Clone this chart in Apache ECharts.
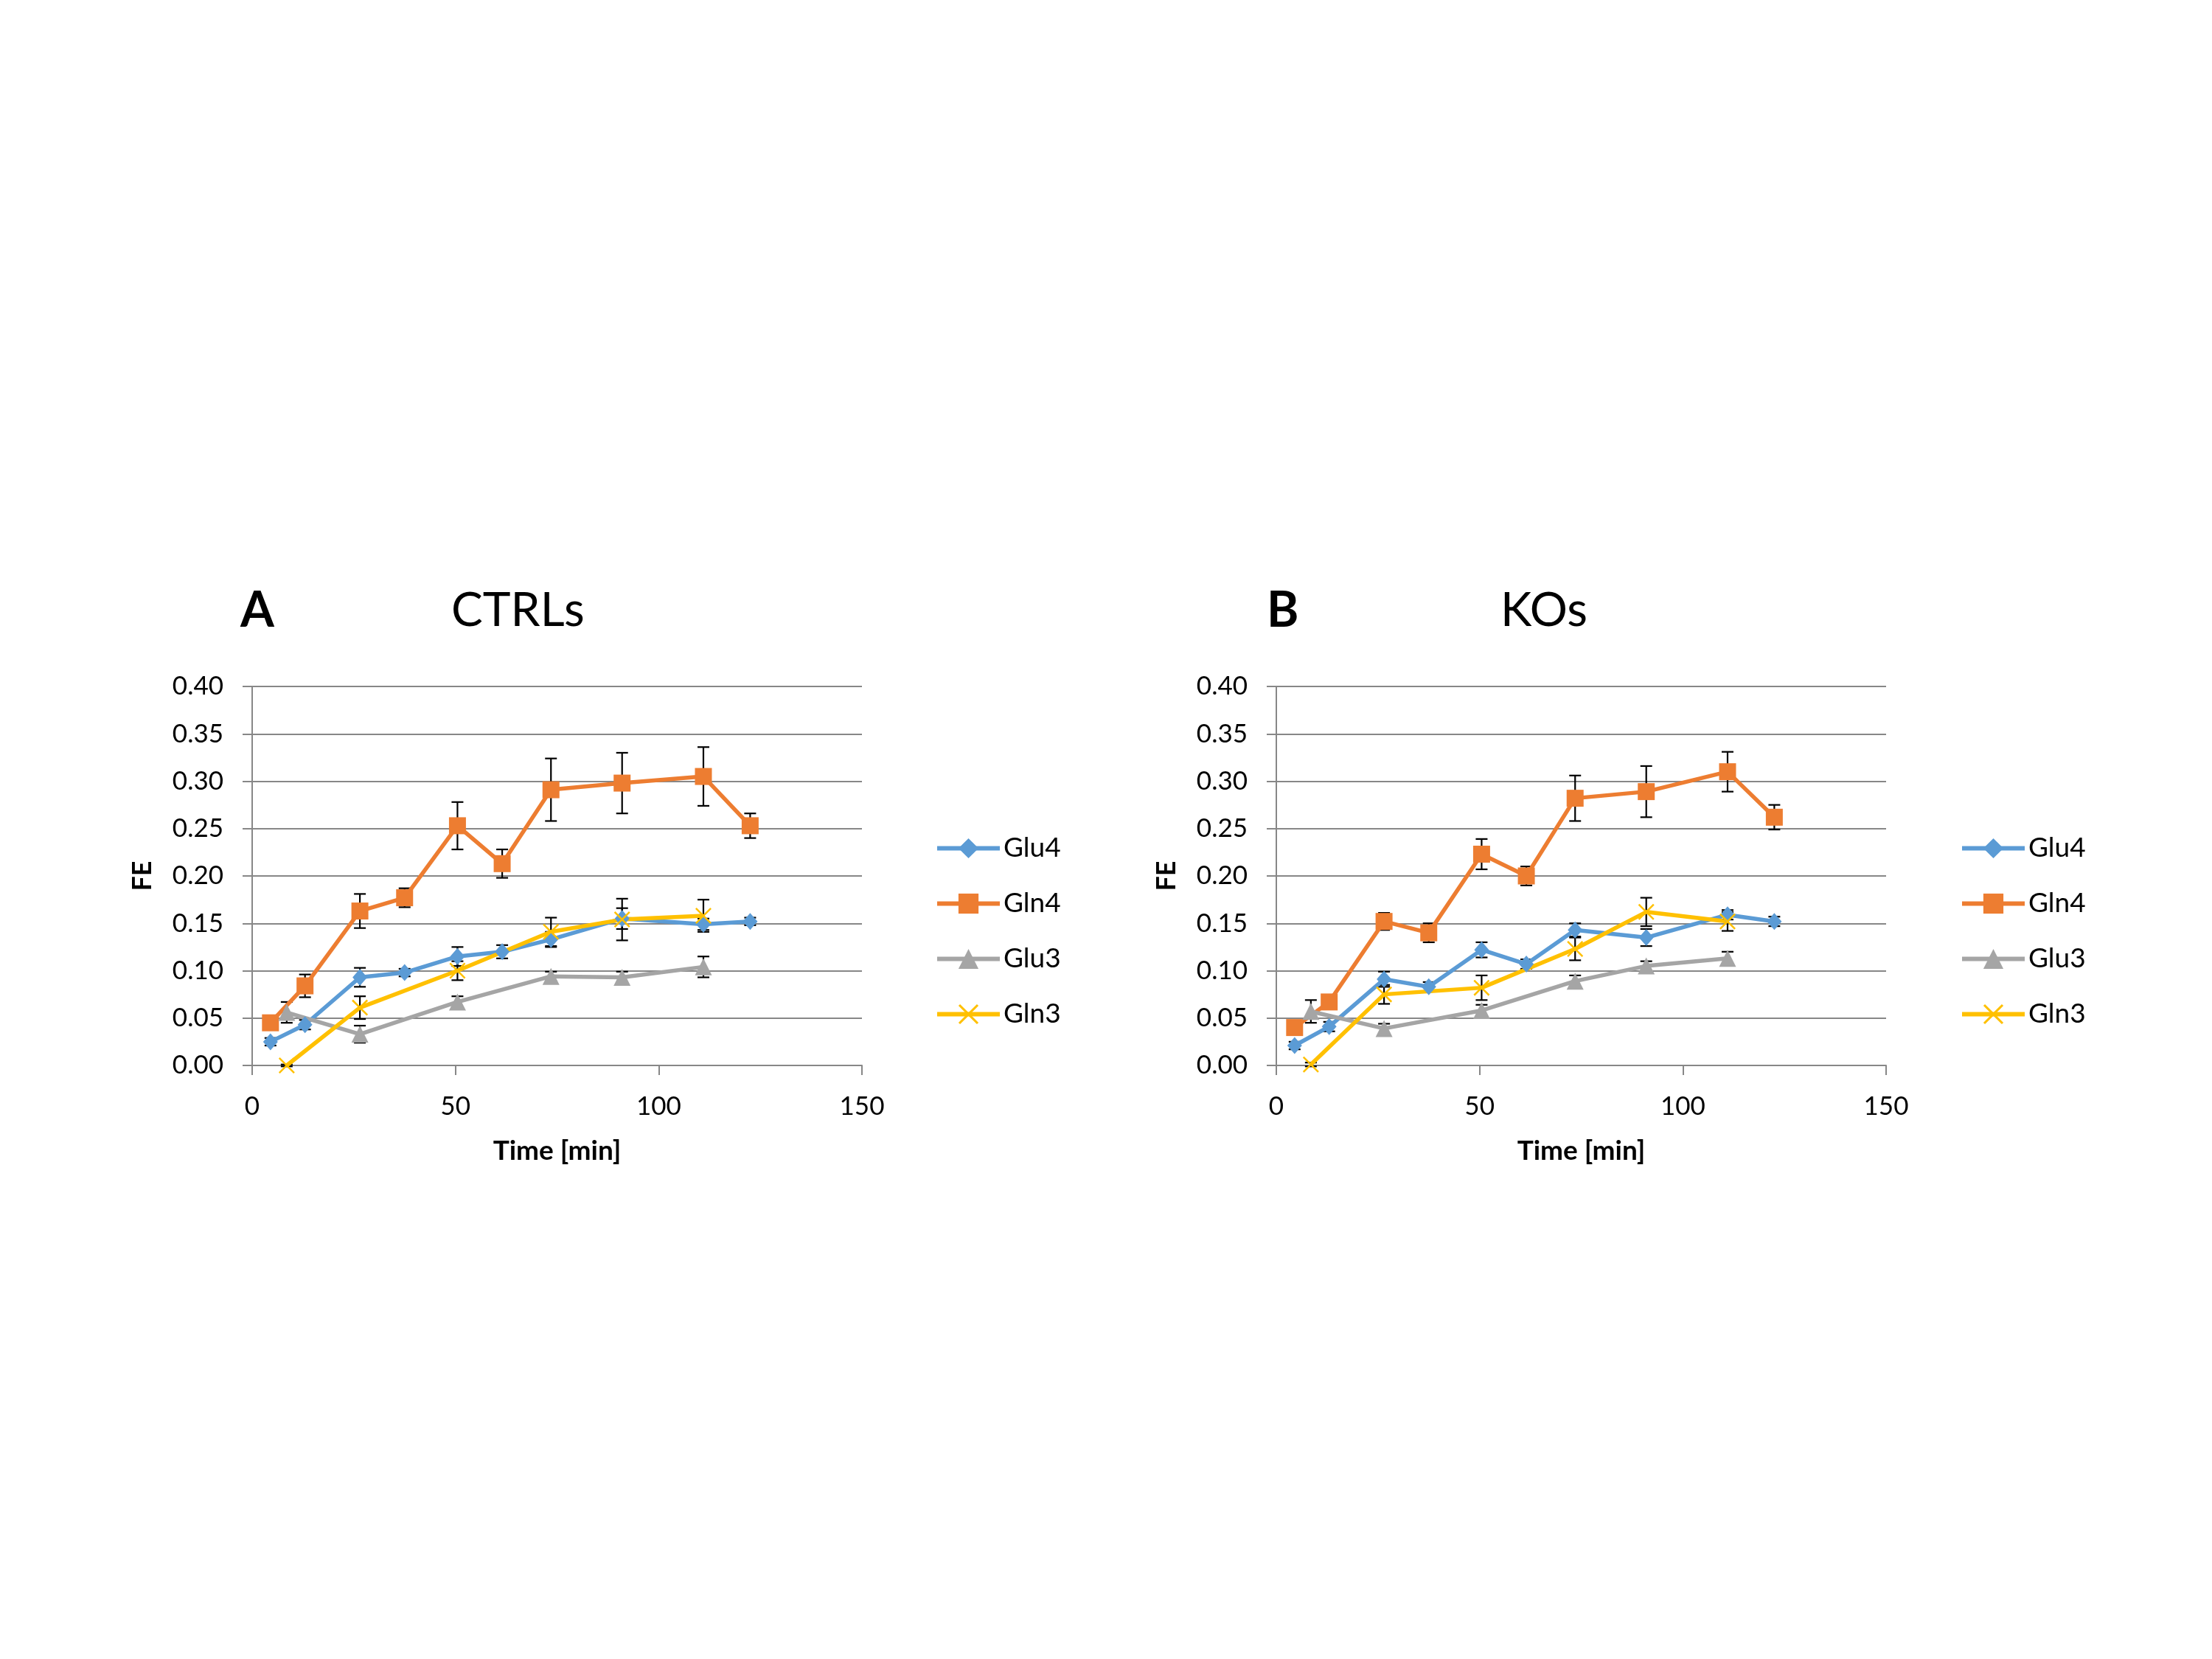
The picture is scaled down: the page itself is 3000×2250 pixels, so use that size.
<!DOCTYPE html>
<html>
<head>
<meta charset="utf-8">
<script src="https://cdn.jsdelivr.net/npm/echarts@6/dist/echarts.min.js"></script>
<style>
html,body{margin:0;padding:0;background:#fff;}
#chart{width:3000px;height:2250px;}
</style>
</head>
<body>
<div id="chart"></div>
<script>
// ---- data ----
const seriesNames = ['Glu4', 'Gln4', 'Glu3', 'Gln3'];
const times4 = [4.5, 13, 26.5, 37.5, 50.5, 61.5, 73.5, 91, 111, 122.5];
const times3 = [8.5, 26.5, 50.5, 73.5, 91, 111];
const xTicks = [0, 50, 100, 150];
const yTicks = [0, 0.05, 0.10, 0.15, 0.20, 0.25, 0.30, 0.35, 0.40];

// CTRLs
const ctrlGlu4    = [0.025, 0.043, 0.093, 0.098, 0.115, 0.120, 0.133, 0.155, 0.149, 0.152];
const ctrlGlu4Err = [0.004, 0.005, 0.010, 0.004, 0.010, 0.007, 0.008, 0.011, 0.006, 0.004];
const ctrlGln4    = [0.045, 0.084, 0.163, 0.177, 0.253, 0.213, 0.291, 0.298, 0.305, 0.253];
const ctrlGln4Err = [0.002, 0.012, 0.018, 0.010, 0.025, 0.015, 0.033, 0.032, 0.031, 0.013];
const ctrlGlu3    = [0.056, 0.033, 0.067, 0.094, 0.093, 0.104];
const ctrlGlu3Err = [0.011, 0.009, 0.006, 0.005, 0.006, 0.011];
const ctrlGln3    = [0.000, 0.061, 0.100, 0.141, 0.154, 0.158];
const ctrlGln3Err = [0.001, 0.012, 0.010, 0.015, 0.022, 0.017];

// KOs
const koGlu4    = [0.021, 0.041, 0.091, 0.083, 0.122, 0.107, 0.143, 0.135, 0.159, 0.152];
const koGlu4Err = [0.004, 0.005, 0.008, 0.005, 0.008, 0.005, 0.007, 0.009, 0.005, 0.005];
const koGln4    = [0.040, 0.067, 0.152, 0.140, 0.223, 0.200, 0.282, 0.289, 0.310, 0.262];
const koGln4Err = [0.002, 0.003, 0.009, 0.010, 0.016, 0.010, 0.024, 0.027, 0.021, 0.013];
const koGlu3    = [0.057, 0.039, 0.058, 0.089, 0.105, 0.113];
const koGlu3Err = [0.012, 0.005, 0.006, 0.006, 0.005, 0.007];
const koGln3    = [0.001, 0.075, 0.082, 0.123, 0.162, 0.152];
const koGln3Err = [0.002, 0.010, 0.013, 0.012, 0.015, 0.010];

// ---- styling ----
const colors = {Glu4: '#5B9BD5', Gln4: '#ED7D31', Glu3: '#A5A5A5', Gln3: '#FFC000'};
const xPath = 'path://M0.8,0 L5,4.2 L9.2,0 L10,0.8 L5.8,5 L10,9.2 L9.2,10 L5,5.8 L0.8,10 L0,9.2 L4.2,5 L0,0.8 Z';
const symbols = {Glu4: 'diamond', Gln4: 'rect', Glu3: 'triangle', Gln3: xPath};
const symbolSizes = {Glu4: [20, 23], Gln4: 23, Glu3: 23, Gln3: 22};
const FONT = 'Lato, "Open Sans", sans-serif';
const GRID_COLOR = '#878787';

const panels = [
  {t4: times4, t3: times3, vals: {Glu4: ctrlGlu4, Gln4: ctrlGln4, Glu3: ctrlGlu3, Gln3: ctrlGln3},
   errs: {Glu4: ctrlGlu4Err, Gln4: ctrlGln4Err, Glu3: ctrlGlu3Err, Gln3: ctrlGln3Err}},
  {t4: times4, t3: times3, vals: {Glu4: koGlu4, Gln4: koGln4, Glu3: koGlu3, Gln3: koGln3},
   errs: {Glu4: koGlu4Err, Gln4: koGln4Err, Glu3: koGlu3Err, Gln3: koGln3Err}}
];

const series = [];
panels.forEach((p, gi) => {
  seriesNames.forEach(name => {
    const t = (name === 'Glu4' || name === 'Gln4') ? p.t4 : p.t3;
    const v = p.vals[name];
    const e = p.errs[name];
    // error bars
    series.push({
      type: 'custom',
      name: name + '_err' + gi,
      xAxisIndex: gi, yAxisIndex: gi,
      z: 1,
      silent: true,
      data: t.map((x, i) => [x, v[i], e[i]]),
      encode: {x: 0, y: 1},
      renderItem: function (params, api) {
        const x = api.value(0), y = api.value(1), err = api.value(2);
        const top = api.coord([x, y + err]);
        const bot = api.coord([x, y - err]);
        const hw = 8;
        const st = {stroke: '#000', lineWidth: 2.2};
        return {
          type: 'group',
          children: [
            {type: 'line', shape: {x1: top[0], y1: top[1], x2: bot[0], y2: bot[1]}, style: st},
            {type: 'line', shape: {x1: top[0] - hw, y1: top[1], x2: top[0] + hw, y2: top[1]}, style: st},
            {type: 'line', shape: {x1: bot[0] - hw, y1: bot[1], x2: bot[0] + hw, y2: bot[1]}, style: st}
          ]
        };
      }
    });
    // line + markers
    series.push({
      type: 'line',
      name: name,
      xAxisIndex: gi, yAxisIndex: gi,
      z: 2,
      data: t.map((x, i) => [x, v[i]]),
      symbol: symbols[name],
      symbolSize: symbolSizes[name],
      showAllSymbol: true,
      lineStyle: {color: colors[name], width: 5.5},
      itemStyle: {color: colors[name], borderWidth: 0},
      emphasis: {disabled: true}
    });
  });
});

function xAxisCfg(gi) {
  return {
    gridIndex: gi, type: 'value', min: xTicks[0], max: xTicks[xTicks.length - 1], interval: 50,
    name: 'Time [min]', nameLocation: 'middle', nameGap: 98,
    nameTextStyle: {fontSize: 37, fontWeight: 'bold', color: '#000', fontFamily: FONT},
    axisLine: {show: true, lineStyle: {color: GRID_COLOR, width: 2}},
    axisTick: {show: true, length: 13, inside: false, lineStyle: {color: GRID_COLOR, width: 2}},
    axisLabel: {fontSize: 35, color: '#000', margin: 38, fontFamily: FONT},
    splitLine: {show: false}
  };
}
function yAxisCfg(gi) {
  return {
    gridIndex: gi, type: 'value', min: yTicks[0], max: yTicks[yTicks.length - 1], interval: 0.05,
    name: 'FE', nameLocation: 'middle', nameGap: 131, nameRotate: 90,
    nameTextStyle: {fontSize: 36, fontWeight: 'bold', color: '#000', fontFamily: FONT},
    axisLine: {show: true, lineStyle: {color: GRID_COLOR, width: 2}},
    axisTick: {show: true, length: 13, inside: false, lineStyle: {color: GRID_COLOR, width: 2}},
    axisLabel: {fontSize: 35, color: '#000', margin: 39, fontFamily: FONT,
                formatter: v => v.toFixed(2)},
    splitLine: {show: true, lineStyle: {color: GRID_COLOR, width: 2}}
  };
}
function legendCfg(left) {
  return {
    orient: 'vertical', left: left, top: 1127,
    data: seriesNames,
    itemWidth: 85, itemHeight: 34, itemGap: 38,
    lineStyle: {width: 6},
    textStyle: {fontSize: 37, color: '#000', fontFamily: FONT, lineHeight: 34},
    selectedMode: false
  };
}

const chart = echarts.init(document.getElementById('chart'), null, {renderer: 'canvas'});
chart.setOption({
  animation: false,
  backgroundColor: '#fff',
  textStyle: {fontFamily: FONT},
  grid: [
    {left: 342, top: 931, width: 827, height: 514},
    {left: 1731, top: 931, width: 827, height: 514}
  ],
  xAxis: [xAxisCfg(0), xAxisCfg(1)],
  yAxis: [yAxisCfg(0), yAxisCfg(1)],
  legend: [legendCfg(1263), legendCfg(2653)],
  graphic: [
    {type: 'text', left: 326, top: 796, style: {text: 'A', fontSize: 66, fontWeight: 'bold', fill: '#000', fontFamily: FONT}},
    {type: 'text', left: 612, top: 796, style: {text: 'CTRLs', fontSize: 64, fill: '#000', fontFamily: FONT}},
    {type: 'text', left: 1718, top: 796, style: {text: 'B', fontSize: 66, fontWeight: 'bold', fill: '#000', fontFamily: FONT}},
    {type: 'text', left: 2035, top: 796, style: {text: 'KOs', fontSize: 64, fill: '#000', fontFamily: FONT}}
  ],
  series: series
});
</script>
</body>
</html>
